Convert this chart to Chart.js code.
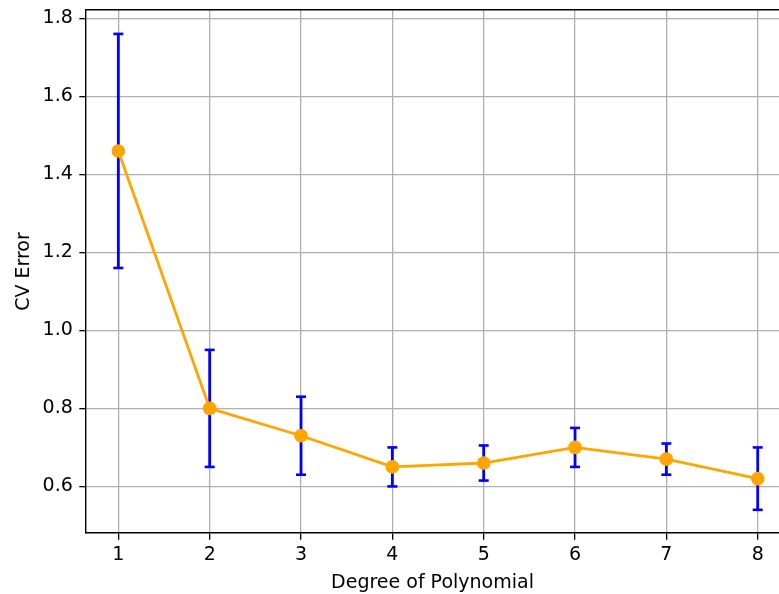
<!DOCTYPE html>
<html>
<head>
<meta charset="utf-8">
<script src="https://cdn.jsdelivr.net/npm/chart.js@4.4.1/dist/chart.umd.min.js"></script>
<style>
  html, body { margin: 0; padding: 0; background: #fff; overflow: hidden; }
  #wrap { width: 779px; height: 594px; position: relative; }
</style>
</head>
<body>
<div id="wrap"><canvas id="c" width="779" height="594"></canvas></div>
<script>
// ---- data ----
const degrees = [1, 2, 3, 4, 5, 6, 7, 8];
const cvError = [1.46, 0.80, 0.73, 0.65, 0.66, 0.70, 0.67, 0.62];
const errLow  = [1.16, 0.65, 0.63, 0.60, 0.615, 0.65, 0.63, 0.54];
const errHigh = [1.76, 0.95, 0.83, 0.70, 0.705, 0.75, 0.71, 0.70];
const yTickValues = [0.6, 0.8, 1.0, 1.2, 1.4, 1.6, 1.8];
const xTickValues = [1, 2, 3, 4, 5, 6, 7, 8];
const xLabel = 'Degree of Polynomial';
const yLabel = 'CV Error';

// ---- build datasets ----
const mainPts = degrees.map((d, i) => ({ x: d, y: cvError[i] }));
const barPts = [];
degrees.forEach((d, i) => {
  barPts.push({ x: d, y: errLow[i] });
  barPts.push({ x: d, y: errHigh[i] });
  barPts.push({ x: d, y: null });
});
const capPts = [];
degrees.forEach((d, i) => {
  capPts.push({ x: d, y: errLow[i] });
  capPts.push({ x: d, y: errHigh[i] });
});

const FONT = { family: 'DejaVu Sans', size: 19 };
const GRID = '#b0b0b0';
const noPad = s => { s.paddingTop = 0; s.paddingBottom = 0; s.paddingLeft = 0; s.paddingRight = 0; };

const chart = new Chart(document.getElementById('c'), {
  type: 'line',
  data: {
    datasets: [
      {
        data: mainPts,
        borderColor: '#FFA500',
        backgroundColor: '#FFA500',
        borderWidth: 2.8,
        pointRadius: 6.8,
        pointBorderWidth: 0,
        pointBackgroundColor: '#FFA500',
        tension: 0,
        order: 0
      },
      {
        data: barPts,
        borderColor: '#0000FF',
        borderWidth: 2.8,
        pointRadius: 0,
        spanGaps: false,
        tension: 0,
        order: 2
      },
      {
        type: 'scatter',
        data: capPts,
        showLine: false,
        pointStyle: 'line',
        pointRadius: 5,
        pointBorderWidth: 2.6,
        pointBorderColor: '#0000FF',
        borderColor: '#0000FF',
        order: 1
      }
    ]
  },
  options: {
    responsive: false,
    animation: false,
    events: [],
    layout: { autoPadding: false, padding: 0 },
    plugins: { legend: { display: false }, tooltip: { enabled: false } },
    scales: {
      x: {
        type: 'linear',
        position: 'bottom',
        min: 0.646,
        max: 8.233,
        afterBuildTicks: s => { s.ticks = xTickValues.map(v => ({ value: v })); },
        afterFit: s => { s.height = 61; noPad(s); },
        ticks: {
          color: '#000',
          font: FONT,
          padding: 4,
          maxRotation: 0,
          autoSkip: false,
          callback: v => String(v)
        },
        grid: {
          color: GRID,
          lineWidth: 1.3,
          tickColor: '#000',
          tickLength: 6.7,
          tickWidth: 1.3
        },
        border: { display: true, color: '#000', width: 1.4 },
        title: {
          display: true,
          text: xLabel,
          color: '#000',
          font: FONT,
          padding: { top: 0, bottom: 0 }
        }
      },
      x2: {
        type: 'linear',
        position: 'top',
        min: 0.646,
        max: 8.233,
        ticks: { display: false },
        grid: { display: false, drawTicks: false },
        border: { display: true, color: '#000', width: 1.4 },
        afterFit: s => { s.height = 10; noPad(s); }
      },
      y: {
        type: 'linear',
        position: 'left',
        min: 0.4806,
        max: 1.8213,
        afterBuildTicks: s => { s.ticks = yTickValues.map(v => ({ value: v })); },
        afterFit: s => { s.width = 86; noPad(s); },
        ticks: {
          color: '#000',
          font: FONT,
          padding: 6.5,
          callback: v => Number(v).toFixed(1)
        },
        grid: {
          color: GRID,
          lineWidth: 1.3,
          tickColor: '#000',
          tickLength: 6.7,
          tickWidth: 1.3
        },
        border: { display: true, color: '#000', width: 1.4 },
        title: {
          display: true,
          text: yLabel,
          color: '#000',
          font: FONT,
          padding: { top: 13, bottom: 0 }
        }
      }
    }
  }
});
</script>
</body>
</html>
